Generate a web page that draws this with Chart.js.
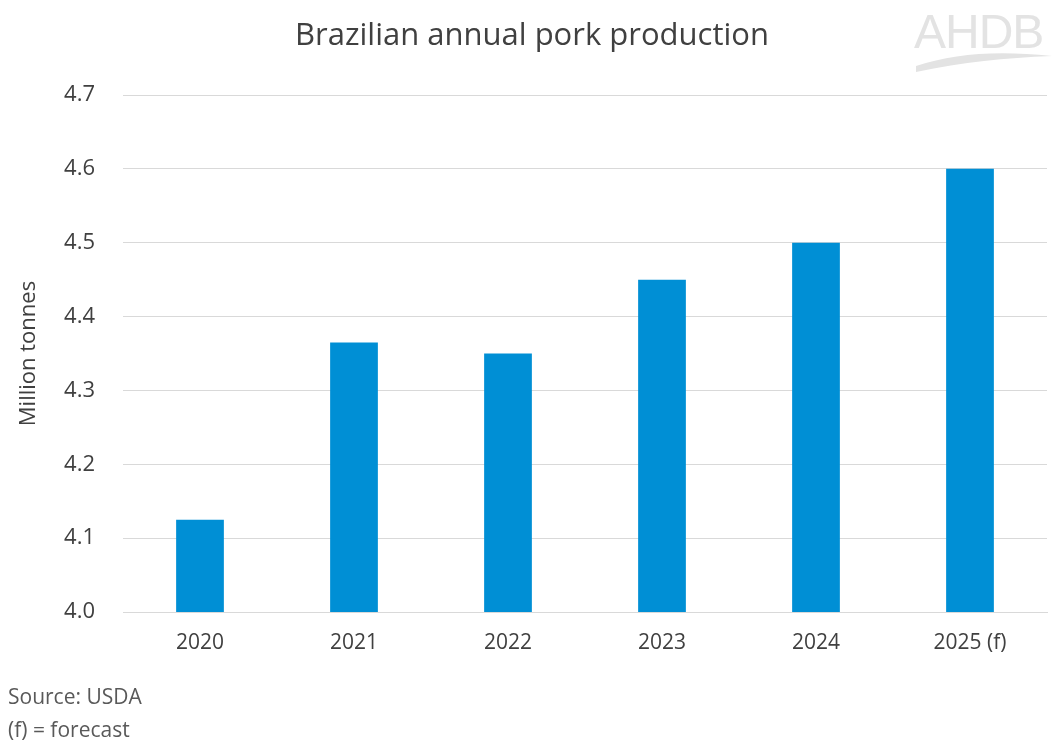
<!DOCTYPE html>
<html>
<head>
<meta charset="utf-8">
<script src="https://cdn.jsdelivr.net/npm/chart.js@4"></script>
<style>
  body { margin: 0; background: #fff; }
  #wrap { position: relative; width: 1059px; height: 753px; font-family: "Open Sans", sans-serif; }
  #title { position: absolute; top: 12px; left: 0; width: 1064px; text-align: center; font-size: 31px; color: #404040; }
  #logo { position: absolute; top: 4px; left: 914px; font-family: "Liberation Sans", Arial, sans-serif; font-size: 48px; color: #e3e3e3; letter-spacing: -1px; }
  #logo svg { position: absolute; left: 0px; top: 46px; }
  #source { position: absolute; left: 8px; top: 680px; font-size: 21px; color: #595959; line-height: 33px; }
  canvas { position: absolute; left: 0; top: 0; }
</style>
</head>
<body>
<div id="wrap">
  <canvas id="chart" width="1059" height="753"></canvas>
  <div id="title">Brazilian annual pork production</div>
  <div id="logo">AHDB
    <svg width="140" height="24"><path d="M2 16 C40 4 80 0 138 6 C90 8 50 12 2 22 Z" fill="#e3e3e3"/></svg>
  </div>
  <div id="source">Source: USDA<br>(f) = forecast</div>
</div>
<script>
const years = ["2020", "2021", "2022", "2023", "2024", "2025 (f)"];
const production = [4.125, 4.365, 4.35, 4.45, 4.5, 4.6];
const yTicks = [4.0, 4.1, 4.2, 4.3, 4.4, 4.5, 4.6, 4.7];

new Chart(document.getElementById("chart"), {
  type: 'bar',
  data: {
    labels: years,
    datasets: [{
      data: production,
      backgroundColor: "#008fd5",
      barPercentage: 0.31,
      categoryPercentage: 1
    }]
  },
  options: {
    responsive: false,
    animation: false,
    layout: { padding: { top: 95, right: 12, left: 12, bottom: 0 } },
    plugins: { legend: { display: false }, tooltip: { enabled: false } },
    scales: {
      x: {
        grid: { display: false },
        border: { color: "#d9d9d9" },
        ticks: { color: "#404040", font: { family: "Open Sans", size: 21 }, padding: 10 },
        afterFit: s => { s.height = 141; }
      },
      y: {
        min: 4.0, max: 4.7,
        afterBuildTicks: s => { s.ticks = yTicks.map(v => ({ value: v })); },
        grid: { color: "#d9d9d9", drawTicks: false },
        border: { display: false },
        ticks: { color: "#404040", font: { family: "Open Sans", size: 22 }, padding: 28,
                 callback: v => v.toFixed(1) },
        title: { display: true, text: "Million tonnes", color: "#404040",
                 font: { family: "Open Sans", size: 22 } },
        afterFit: s => { s.width = 111; }
      }
    }
  }
});
</script>
</body>
</html>
